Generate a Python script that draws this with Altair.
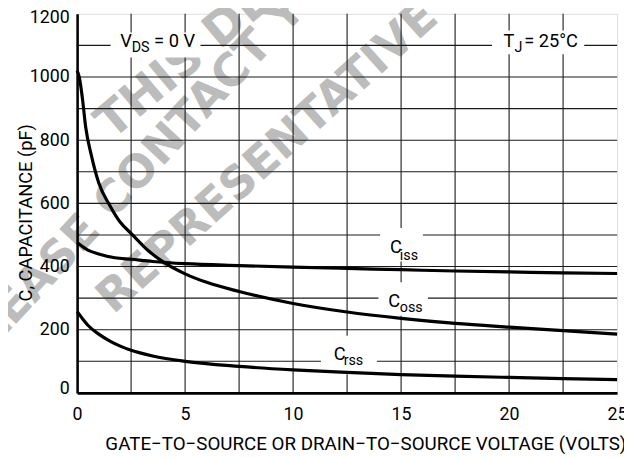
import altair as alt
import pandas as pd

# ---- data ----
ciss_v = [0, 0.5, 1, 1.75, 2.5, 3.5, 5, 7.5, 10, 12.5, 15, 17.5, 20, 22.5, 25]
ciss_c = [476, 452, 440, 428, 423, 416, 409, 403, 398, 394, 390, 386, 383, 380, 378]

coss_v = [0, 0.1, 0.25, 0.4, 0.65, 1.0, 1.5, 2.0, 2.5, 3.3, 4.0, 5.0, 6.0, 7.5, 10, 12.5, 15, 17.5, 20, 22.5, 25]
coss_c = [1020, 1000, 930, 840, 755, 665, 595, 540, 505, 450, 414, 377, 350, 321, 283, 256, 236, 220, 208, 197, 186]

crss_v = [0, 0.25, 0.5, 1, 1.5, 2, 2.5, 3.5, 5, 7.5, 10, 12.5, 15, 17.5, 20, 22.5, 25]
crss_c = [258, 235, 214, 186, 165, 148, 135, 117, 100, 84, 73, 65, 58, 53, 49, 45, 42]

x_ticks = [0, 5, 10, 15, 20, 25]
y_ticks = [0, 200, 400, 600, 800, 1000, 1200]
x_grid = [2.5, 5, 7.5, 10, 12.5, 15, 17.5, 20, 22.5]
y_grid = [100, 200, 300, 400, 500, 600, 700, 800, 900, 1000, 1100]

x_title = "GATE\u2212TO\u2212SOURCE OR DRAIN\u2212TO\u2212SOURCE VOLTAGE (VOLTS)"
y_title = "C, CAPACITANCE (pF)"

# annotations (text, x, y in data units)
main_labels = ["V", "= 0 V", "T", "= 25\u00b0C", "C", "C", "C"]
main_x = [2.0, 3.565, 19.74, 20.70, 14.49, 14.40, 11.88]
main_y = [1094, 1094, 1094, 1094, 443, 272, 104]

sub_labels = ["DS", "J", "iss", "oss", "rss"]
sub_x = [2.527, 20.25, 14.94, 14.94, 12.34]
sub_y = [1078, 1078, 422, 256, 87]

box_x1 = [1.554, 19.21, 14.03, 13.95, 11.29]
box_x2 = [5.713, 23.48, 16.01, 16.24, 13.88]
box_y1 = [1062, 1072, 416, 244, 59]
box_y2 = [1141, 1147, 522, 350, 181]

# watermark lines (text, centre x, centre y, rotation, font size)
wm_text = ["THIS DEVICE", "PLEASE CONTACT YOUR", "REPRESENTATIVE"]
wm_x = [7.12, 4.12, 8.82]
wm_y = [1172, 792, 745]
wm_angle = [320, 313, 318]
wm_size = [48, 46, 46]

FONT = "Roboto"
XS = alt.Scale(domain=[0, 25], nice=False, zero=False)
YS = alt.Scale(domain=[0, 1200], nice=False, zero=False)

X_AX = alt.Axis(
    values=x_ticks, title=x_title, grid=False, ticks=False, zindex=1,
    domainColor="black", domainWidth=2.6,
    labelFont=FONT, labelFontSize=18, labelColor="black", labelPadding=13,
    labelFlush=False, labelOverlap=False,
    titleFont=FONT, titleFontSize=19, titleFontWeight="normal", titleColor="black",
    titleX=292, titleY=57, titleAlign="center", titleBaseline="alphabetic",
)
Y_AX = alt.Axis(
    values=y_ticks, title=y_title, grid=False, ticks=False, zindex=1, format="d",
    domainColor="black", domainWidth=2.6,
    labelFont=FONT, labelFontSize=18, labelColor="black", labelPadding=8,
    labelFlush=True, labelFlushOffset=5, labelOverlap=False,
    titleFont=FONT, titleFontSize=18.5, titleFontWeight="normal", titleColor="black",
    titleX=-46, titleY=201, titleAngle=270, titleAlign="center", titleBaseline="alphabetic",
)


def X(f):
    return alt.X(f, scale=XS, axis=X_AX, title=x_title)


def Y(f):
    return alt.Y(f, scale=YS, axis=Y_AX, title=y_title)


curves = pd.DataFrame({
    "v": ciss_v + coss_v + crss_v,
    "c": ciss_c + coss_c + crss_c,
    "s": ["Ciss"] * len(ciss_v) + ["Coss"] * len(coss_v) + ["Crss"] * len(crss_v),
})

wm_df = pd.DataFrame({"t": wm_text, "x": wm_x, "y": wm_y, "a": wm_angle, "f": wm_size})
watermark = alt.Chart(wm_df).mark_text(
    font="DejaVu Sans", fontWeight="bold", color="#bcbcbc",
    align="center", baseline="middle"
).encode(
    x=X("x:Q"), y=Y("y:Q"), text="t:N",
    angle=alt.Angle("a:Q", scale=None),
    size=alt.Size("f:Q", scale=None),
)

gx = alt.Chart(pd.DataFrame({"g": x_grid})).mark_rule(color="#1a1a1a", strokeWidth=1.1).encode(
    x=X("g:Q")
)
gy = alt.Chart(pd.DataFrame({"g": y_grid})).mark_rule(color="#1a1a1a", strokeWidth=1.1).encode(
    y=Y("g:Q")
)

box_df = pd.DataFrame({"x1": box_x1, "x2": box_x2, "y1": box_y1, "y2": box_y2})
boxes = alt.Chart(box_df).mark_rect(color="white").encode(
    x=X("x1:Q"), x2="x2:Q", y=Y("y1:Q"), y2="y2:Q",
)

lines = alt.Chart(curves).mark_line(color="black", strokeWidth=3.2, interpolate="monotone").encode(
    x=X("v:Q"), y=Y("c:Q"), detail="s:N",
)

main_df = pd.DataFrame({"t": main_labels, "x": main_x, "y": main_y})
main_txt = alt.Chart(main_df).mark_text(
    font=FONT, fontSize=18.5, color="black", align="left", baseline="alphabetic"
).encode(x=X("x:Q"), y=Y("y:Q"), text="t:N")

sub_df = pd.DataFrame({"t": sub_labels, "x": sub_x, "y": sub_y})
sub_txt = alt.Chart(sub_df).mark_text(
    font=FONT, fontSize=14.5, color="black", align="left", baseline="alphabetic"
).encode(x=X("x:Q"), y=Y("y:Q"), text="t:N")

chart = alt.layer(watermark, gx, gy, boxes, lines, main_txt, sub_txt).properties(
    width=547, height=384,
    autosize=alt.AutoSizeParams(type="none"),
    padding={"left": 70, "top": 3, "right": 7, "bottom": 60},
).configure_view(stroke="black", strokeWidth=1.5).configure(background="white")

chart.save("out.html", embed_options={"renderer": "svg", "actions": False})
